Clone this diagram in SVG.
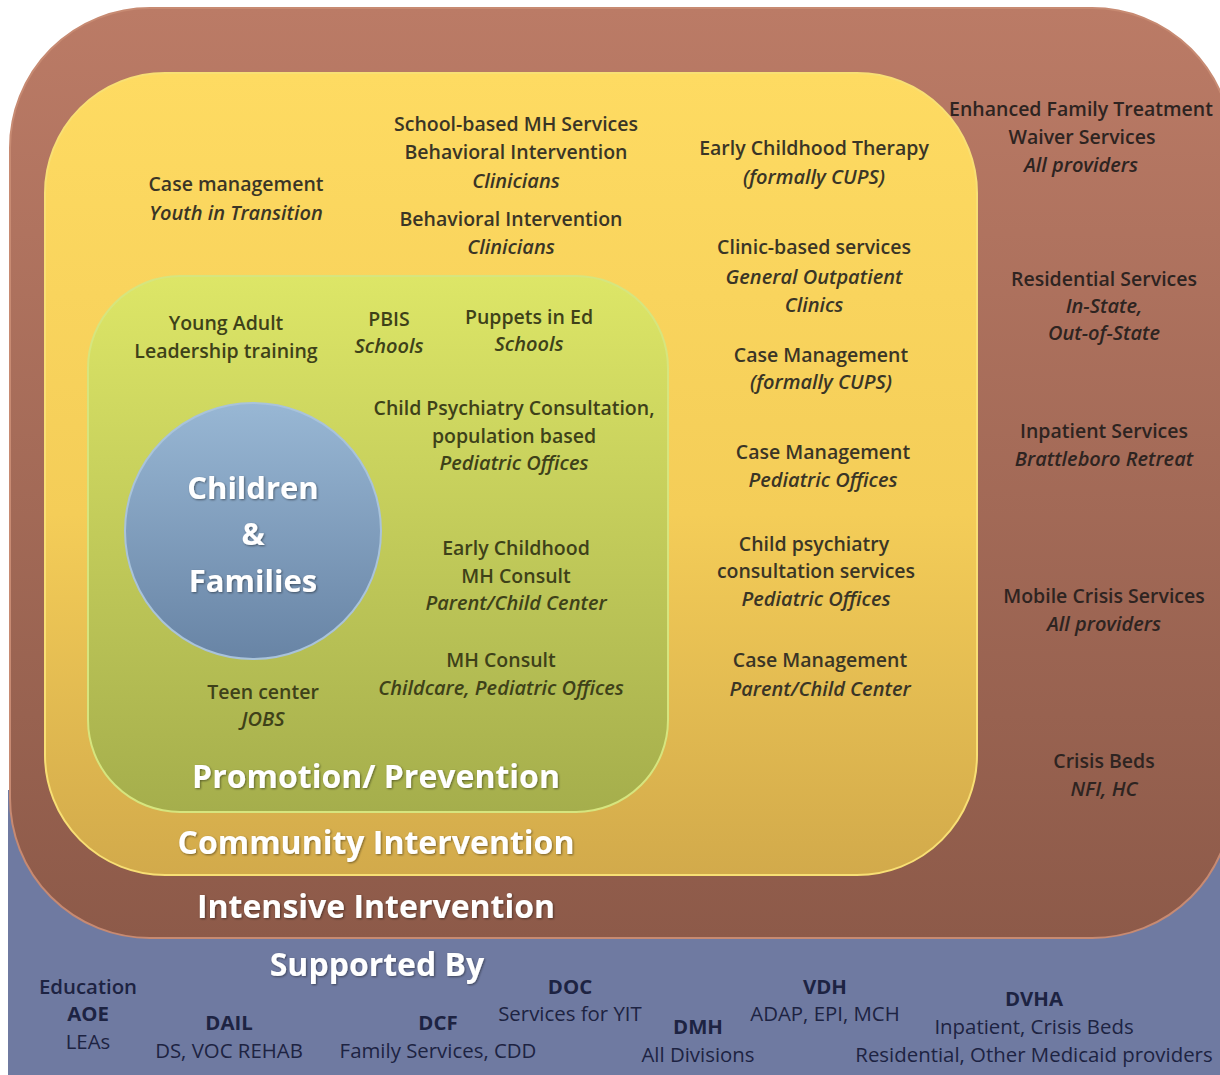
<svg xmlns="http://www.w3.org/2000/svg" width="1220" height="1075" viewBox="0 0 1220 1075">
<defs>
<linearGradient id="gBrown" x1="0" y1="8" x2="0" y2="938" gradientUnits="userSpaceOnUse"><stop offset="0" stop-color="#bb7b66"/><stop offset="1" stop-color="#8d5a49"/></linearGradient>
<linearGradient id="gYellow" x1="0" y1="73" x2="0" y2="875" gradientUnits="userSpaceOnUse"><stop offset="0" stop-color="#fedb62"/><stop offset="0.55" stop-color="#f4cd58"/><stop offset="1" stop-color="#d2aa4b"/></linearGradient>
<linearGradient id="gGreen" x1="0" y1="276" x2="0" y2="812" gradientUnits="userSpaceOnUse"><stop offset="0" stop-color="#dde667"/><stop offset="1" stop-color="#a5ae4c"/></linearGradient>
<linearGradient id="gCircle" x1="0" y1="403" x2="0" y2="660" gradientUnits="userSpaceOnUse"><stop offset="0" stop-color="#98b7d4"/><stop offset="1" stop-color="#6884a5"/></linearGradient>
<filter id="sh" x="-10%" y="-30%" width="120%" height="160%"><feDropShadow dx="1" dy="1" stdDeviation="1" flood-color="#000" flood-opacity="0.45"/></filter>
</defs>
<style>
text{font-family:"Open Sans","Liberation Sans",sans-serif;text-anchor:middle}
.t{font-size:19.5px;font-weight:600;fill:#3a3526}
.i{font-size:20px;font-style:italic;font-weight:600;fill:#3a3526}
.g .t,.g .i{fill:#3e4119}
.br .t,.br .i{fill:#2e2421}
.bl{font-size:20.4px;font-weight:500;fill:#1d2342}
.bb{font-size:20.4px;font-weight:700;fill:#1d2342}
.big{font-size:32px;font-weight:700;fill:#ffffff;filter:url(#sh)}
.cf{font-size:31px;font-weight:700;fill:#ffffff;filter:url(#sh)}
</style>
<rect width="1220" height="1075" fill="#ffffff"/>
<g id="supported-by">
<rect x="8" y="790" width="1212" height="285" fill="#6f7aa1"/>
</g>
<g id="intensive-intervention">
<rect x="10" y="8" width="1222" height="930" rx="140" ry="140" fill="url(#gBrown)" stroke="#c78a72" stroke-width="2"/>
</g>
<g id="community-intervention">
<rect x="45" y="73" width="932" height="802" rx="120" ry="120" fill="url(#gYellow)" stroke="#f8df74" stroke-width="2"/>
</g>
<g id="promotion-prevention">
<rect x="88" y="276" width="580" height="536" rx="92" ry="92" fill="url(#gGreen)" stroke="#d6e57e" stroke-width="2"/>
</g>
<g id="children-families">
<circle cx="253" cy="531" r="128" fill="url(#gCircle)" stroke="#a9c3da" stroke-width="2"/>
<text class="cf" x="253" y="499">Children</text>
<text class="cf" x="253" y="545">&amp;</text>
<text class="cf" x="253" y="592">Families</text>
</g>
<g id="connectors"></g>
<g id="community-items">
<text class="t" x="236" y="191">Case management</text>
<text class="i" x="236" y="220">Youth in Transition</text>
<text class="t" x="516" y="131">School-based MH Services</text>
<text class="t" x="516" y="159">Behavioral Intervention</text>
<text class="i" x="516" y="188">Clinicians</text>
<text class="t" x="511" y="226">Behavioral Intervention</text>
<text class="i" x="511" y="254">Clinicians</text>
<text class="t" x="814" y="155">Early Childhood Therapy</text>
<text class="i" x="814" y="184">(formally CUPS)</text>
<text class="t" x="814" y="254">Clinic-based services</text>
<text class="i" x="814" y="284">General Outpatient</text>
<text class="i" x="814" y="312">Clinics</text>
<text class="t" x="821" y="362">Case Management</text>
<text class="i" x="821" y="389">(formally CUPS)</text>
<text class="t" x="823" y="459">Case Management</text>
<text class="i" x="823" y="487">Pediatric Offices</text>
<text class="t" x="814" y="551">Child psychiatry</text>
<text class="t" x="816" y="578">consultation services</text>
<text class="i" x="816" y="606">Pediatric Offices</text>
<text class="t" x="820" y="667">Case Management</text>
<text class="i" x="820" y="696">Parent/Child Center</text>
</g>
<g id="intensive-items" class="br">
<text class="t" x="1081" y="116">Enhanced Family Treatment</text>
<text class="t" x="1082" y="144">Waiver Services</text>
<text class="i" x="1081" y="172">All providers</text>
<text class="t" x="1104" y="286">Residential Services</text>
<text class="i" x="1104" y="313">In-State,</text>
<text class="i" x="1104" y="340">Out-of-State</text>
<text class="t" x="1104" y="438">Inpatient Services</text>
<text class="i" x="1104" y="466">Brattleboro Retreat</text>
<text class="t" x="1104" y="603">Mobile Crisis Services</text>
<text class="i" x="1104" y="631">All providers</text>
<text class="t" x="1104" y="768">Crisis Beds</text>
<text class="i" x="1104" y="796">NFI, HC</text>
</g>
<g id="promotion-items" class="g">
<text class="t" x="226" y="330">Young Adult</text>
<text class="t" x="226" y="358">Leadership training</text>
<text class="t" x="389" y="326">PBIS</text>
<text class="i" x="389" y="353">Schools</text>
<text class="t" x="529" y="324">Puppets in Ed</text>
<text class="i" x="529" y="351">Schools</text>
<text class="t" x="514" y="415">Child Psychiatry Consultation,</text>
<text class="t" x="514" y="443">population based</text>
<text class="i" x="514" y="470">Pediatric Offices</text>
<text class="t" x="516" y="555">Early Childhood</text>
<text class="t" x="516" y="583">MH Consult</text>
<text class="i" x="516" y="610">Parent/Child Center</text>
<text class="t" x="501" y="667">MH Consult</text>
<text class="i" x="501" y="695">Childcare, Pediatric Offices</text>
<text class="t" x="263" y="699">Teen center</text>
<text class="i" x="263" y="726">JOBS</text>
</g>
<g id="layer-labels">
<text class="big" x="376" y="788">Promotion/ Prevention</text>
<text class="big" x="376" y="854">Community Intervention</text>
<text class="big" x="376" y="918">Intensive Intervention</text>
<text class="big" x="377" y="976">Supported By</text>
</g>
<g id="supporters">
<g id="education"><text class="bl" x="88" y="994" style="font-weight:600">Education</text><text class="bb" x="88" y="1021">AOE</text><text class="bl" x="88" y="1049">LEAs</text></g>
<g id="dail"><text class="bb" x="229" y="1030">DAIL</text><text class="bl" x="229" y="1058">DS, VOC REHAB</text></g>
<g id="dcf"><text class="bb" x="438" y="1030">DCF</text><text class="bl" x="438" y="1058">Family Services, CDD</text></g>
<g id="doc"><text class="bb" x="570" y="994">DOC</text><text class="bl" x="570" y="1021">Services for YIT</text></g>
<g id="dmh"><text class="bb" x="698" y="1034">DMH</text><text class="bl" x="698" y="1062">All Divisions</text></g>
<g id="vdh"><text class="bb" x="825" y="994">VDH</text><text class="bl" x="825" y="1021">ADAP, EPI, MCH</text></g>
<g id="dvha"><text class="bb" x="1034" y="1006">DVHA</text><text class="bl" x="1034" y="1034">Inpatient, Crisis Beds</text><text class="bl" x="1034" y="1062">Residential, Other Medicaid providers</text></g>
</g>
</svg>
